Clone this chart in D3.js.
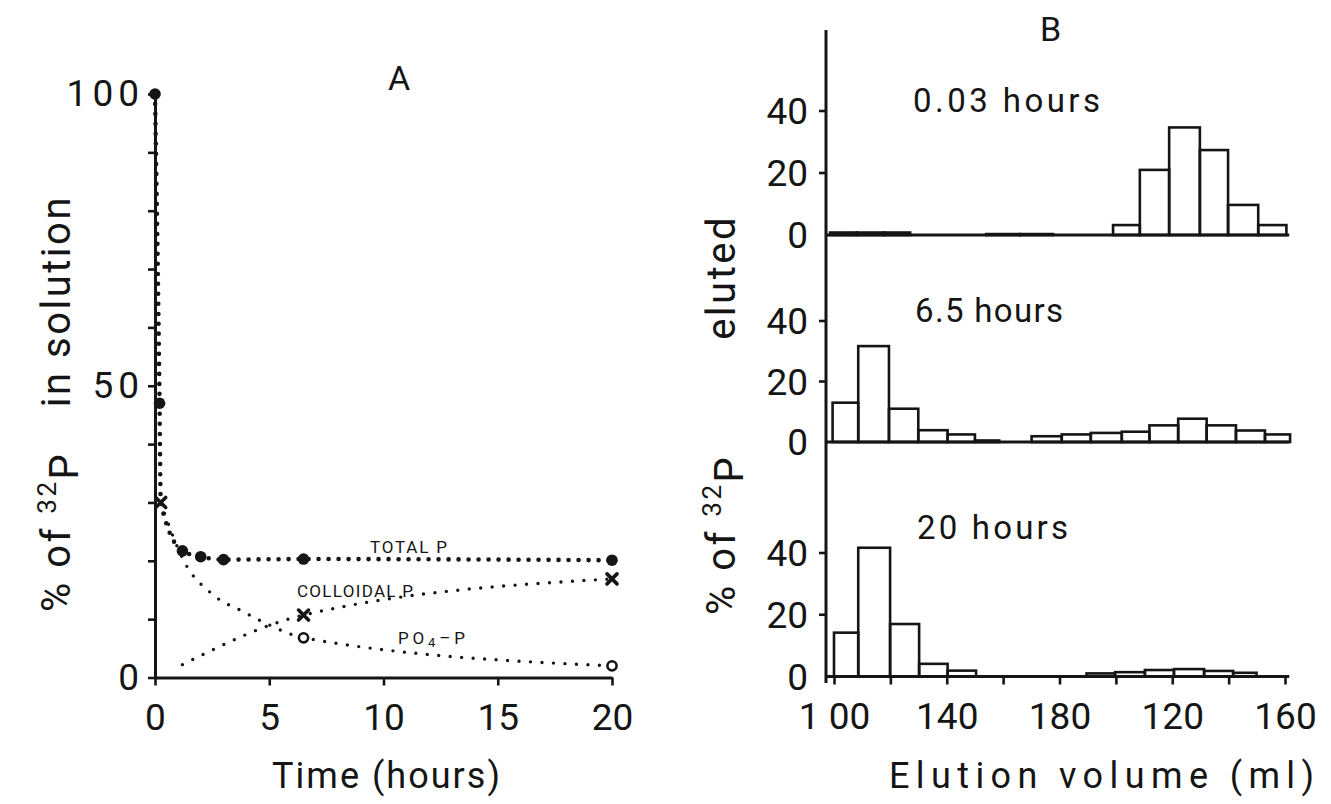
<!DOCTYPE html>
<html>
<head>
<meta charset="utf-8">
<script src="https://cdn.jsdelivr.net/npm/d3@7"></script>
<style>
  html, body { margin: 0; padding: 0; background: #fff; }
  svg { display: block; }
  text { font-family: Roboto, "DejaVu Sans", sans-serif; fill: #151515; }
</style>
</head>
<body>
<svg id="chart" width="1331" height="804"></svg>
<script>
// ---------- Panel A: 32P remaining in solution (% of added) vs time ----------
const hoursTotal = [0, 0.2, 0.25, 1.2, 2, 3, 6.5, 20];
const totalP     = [100, 47, 30, 21.7, 20.7, 20.2, 20.3, 20.1];
const totalMarks = ["dot", "dot", "cross", "dot", "dot", "dot", "dot", "dot"];

const hoursColloidal = [1.2, 6.5, 20];
const colloidalP     = [2.2, 10.7, 16.9];
const colloidalMarks = ["none", "cross", "cross"];

const hoursPO4 = [0.25, 1.3, 2.5, 3.9, 4.9, 6.5, 20];
const po4P     = [30, 19.7, 14.3, 11.2, 9.2, 6.8, 2.0];
const po4Marks = ["none", "none", "none", "none", "none", "circle", "circle"];

const timeTicks     = [0, 5, 10, 15, 20];
const percentTicks  = [0, 10, 20, 30, 40, 50, 60, 70, 80, 90, 100];
const percentLabels = [0, 50, 100];

// ---------- Panel B: gel elution profiles (% of 32P per fraction) ----------
const elutionTicks      = [100, 120, 140, 160, 180, 200, 220, 240, 260];
const elutionTickLabels = ["1 00", "", "140", "", "180", "", "120", "", "160"];
const elutedTicks       = [0, 20, 40];

// fraction edges (ml) and % eluted in each fraction; null = nothing drawn
const edges003 = [98.6, 108.1, 117.6, 127, 154, 166, 177.7, 199, 208.5, 218.9, 229.8, 239.8, 250.5, 260.5];
const pct003   = [0.8, 0.8, 0.8, null, 0.3, 0.3, null, 3.2, 21, 34.7, 27.4, 9.7, 3.2];

const edges65 = [99.5, 108.6, 119.5, 129.9, 140.3, 150, 158.6, 170.1, 180.8, 191.1, 202.1, 211.9, 222.1, 232.2, 242.6, 252.9, 261.8];
const pct65   = [13.0, 31.7, 11.0, 3.9, 2.5, 0.5, null, 1.9, 2.5, 3.0, 3.4, 5.5, 7.7, 5.5, 3.8, 2.5];

const edges20 = [100, 108.6, 119.9, 130.2, 140.3, 150.4, 189.6, 199.7, 210.3, 220.6, 231.3, 241.6, 249.9];
const pct20   = [14.2, 41.7, 17.0, 4.1, 1.9, null, 1.0, 1.4, 2.1, 2.4, 1.8, 1.2];

const sampleTimes = ["0.03 hours", "6.5 hours", "20 hours"];

// ---------------------------------------------------------------------------
const ink = "#151515";
const svg = d3.select("#chart");
svg.append("rect").attr("width", 1331).attr("height", 804).attr("fill", "#fff");

// spread letters so a label covers a given width
function fitWidth(sel, w) {
  const node = sel.node();
  const L = node.getComputedTextLength();
  const n = node.textContent.length;
  sel.attr("letter-spacing", ((w - L) / Math.max(1, n - 1)).toFixed(2));
  return sel;
}

function styleAxis(g, fontSize) {
  g.attr("font-size", null).attr("font-family", null);
  g.select(".domain").attr("stroke", ink).attr("stroke-width", 3);
  g.selectAll(".tick line").attr("stroke", ink).attr("stroke-width", 2.6);
  g.selectAll(".tick text").attr("fill", ink).style("font-size", fontSize + "px");
}

// rotated axis title: "% of 32P" reads up from yLow, the rest ends at yHigh
function verticalTitle(g, x, yLow, yHigh, rest) {
  const a = g.append("text")
    .attr("transform", `translate(${x},${yLow}) rotate(-90)`)
    .attr("letter-spacing", 2.5)
    .style("font-size", "40px");
  a.append("tspan").text("% of ");
  a.append("tspan").attr("dy", "-0.55em").style("font-size", "26px").text("32");
  a.append("tspan").attr("dy", "0.55em").text("P");
  g.append("text")
    .attr("transform", `translate(${x},${yHigh}) rotate(-90)`)
    .attr("text-anchor", "end")
    .attr("letter-spacing", 2.5)
    .style("font-size", "40px")
    .text(rest);
}

// ===== Panel A =====
const xA = d3.scaleLinear().domain([0, 20]).range([155, 612]);
const yA = d3.scaleLinear().domain([0, 100]).range([677.5, 94]);
const gA = svg.append("g");

const axAx = gA.append("g")
  .attr("transform", `translate(0,${yA(0)})`)
  .call(d3.axisBottom(xA).tickValues(timeTicks).tickSize(8).tickPadding(18).tickSizeOuter(0));
styleAxis(axAx, 37);

const axAy = gA.append("g")
  .attr("transform", `translate(${xA(0)},0)`)
  .call(d3.axisLeft(yA).tickValues(percentTicks).tickSize(7).tickPadding(4).tickSizeOuter(0)
    .tickFormat(d => percentLabels.includes(d) ? d : ""));
styleAxis(axAy, 37);
axAy.selectAll(".tick text").attr("letter-spacing", 5);

const lineA = d3.line().x(d => xA(d[0])).y(d => yA(d[1])).curve(d3.curveMonotoneX);

function drawSeries(times, values, marks, width, gap) {
  const pts = d3.zip(times, values);
  gA.append("path")
    .attr("d", lineA(pts))
    .attr("fill", "none")
    .attr("stroke", ink)
    .attr("stroke-width", width)
    .attr("stroke-linecap", "round")
    .attr("stroke-dasharray", `0 ${gap}`);
  pts.forEach((p, i) => {
    const cx = xA(p[0]), cy = yA(p[1]);
    if (marks[i] === "dot") {
      gA.append("circle").attr("cx", cx).attr("cy", cy).attr("r", 5.8).attr("fill", ink);
    } else if (marks[i] === "cross") {
      gA.append("path")
        .attr("d", `M${cx - 5},${cy - 5}L${cx + 5},${cy + 5}M${cx - 5},${cy + 5}L${cx + 5},${cy - 5}`)
        .attr("stroke", ink).attr("stroke-width", 3.6).attr("stroke-linecap", "round");
    } else if (marks[i] === "circle") {
      gA.append("circle").attr("cx", cx).attr("cy", cy).attr("r", 4.6)
        .attr("fill", "#fff").attr("stroke", ink).attr("stroke-width", 2.6);
    }
  });
}

drawSeries(hoursPO4, po4P, po4Marks, 3.4, 11.5);
drawSeries(hoursColloidal, colloidalP, colloidalMarks, 3.4, 11.5);
drawSeries(hoursTotal, totalP, totalMarks, 4.6, 10);

// series names
fitWidth(gA.append("text").attr("x", 370).attr("y", 553).style("font-size", "17px").text("TOTAL P"), 77);
fitWidth(gA.append("text").attr("x", 297).attr("y", 597).style("font-size", "17px").text("COLLOIDAL P"), 116);
const po4Label = gA.append("text").attr("x", 398).attr("y", 644).style("font-size", "17px");
po4Label.append("tspan").text("PO");
po4Label.append("tspan").attr("dy", 3).style("font-size", "13px").text("4");
po4Label.append("tspan").attr("dy", -3).text("\u2013P");
fitWidth(po4Label, 67);

// panel letter and axis titles
gA.append("text").attr("x", 388).attr("y", 90).style("font-size", "34px").text("A");
fitWidth(gA.append("text").attr("x", 272).attr("y", 788).style("font-size", "36px").text("Time (hours)"), 228);
verticalTitle(gA, 70, 612, 195, "in solution");

// ===== Panel B =====
const xB = d3.scaleLinear().domain([100, 260]).range([834, 1285]);
const gB = svg.append("g");

const layoutB = [
  { edges: edges003, values: pct003, range: [235, 111], title: [913, 112, 187] },
  { edges: edges65,  values: pct65,  range: [442, 321], title: [915, 322, 148] },
  { edges: edges20,  values: pct20,  range: [676.5, 553], title: [917, 539, 151] }
];

layoutB.forEach((p, k) => {
  const y = d3.scaleLinear().domain([0, 40]).range(p.range);
  const g = gB.append("g");

  // fraction bars
  p.values.forEach((v, i) => {
    if (v === null) return;
    const x0 = xB(p.edges[i]), x1 = xB(p.edges[i + 1]);
    g.append("rect")
      .attr("x", x0).attr("y", y(v))
      .attr("width", x1 - x0).attr("height", y(0) - y(v))
      .attr("fill", "none").attr("stroke", ink).attr("stroke-width", 2.6);
  });

  // baseline
  g.append("line")
    .attr("x1", 826).attr("x2", xB(261.5))
    .attr("y1", y(0)).attr("y2", y(0))
    .attr("stroke", ink).attr("stroke-width", 2.8);

  // y ticks and labels
  elutedTicks.forEach(t => {
    if (t > 0) {
      g.append("line").attr("x1", 819).attr("x2", 826).attr("y1", y(t)).attr("y2", y(t))
        .attr("stroke", ink).attr("stroke-width", 2.6);
    }
    g.append("text").attr("x", 808).attr("y", y(t)).attr("dy", "0.36em")
      .attr("text-anchor", "end").style("font-size", "37px").text(t);
  });

  // sampling time
  fitWidth(g.append("text").attr("x", p.title[0]).attr("y", p.title[1])
    .style("font-size", "33px").text(sampleTimes[k]), p.title[2]);

  if (k === 2) {
    const ax = g.append("g")
      .attr("transform", `translate(0,${y(0)})`)
      .call(d3.axisBottom(xB).tickValues(elutionTicks).tickSize(8).tickPadding(18).tickSizeOuter(0)
        .tickFormat((d, i) => elutionTickLabels[i]));
    styleAxis(ax, 37);
    ax.select(".domain").remove();
  }
});

// vertical axis shared by the three profiles
gB.append("line").attr("x1", 826).attr("x2", 826).attr("y1", 30).attr("y2", 683)
  .attr("stroke", ink).attr("stroke-width", 3);

gB.append("text").attr("x", 1040).attr("y", 41).style("font-size", "34px").text("B");
fitWidth(gB.append("text").attr("x", 889).attr("y", 788).style("font-size", "36px").text("Elution volume (ml)"), 425);
verticalTitle(gB, 735, 615, 215, "eluted");
</script>
</body>
</html>
